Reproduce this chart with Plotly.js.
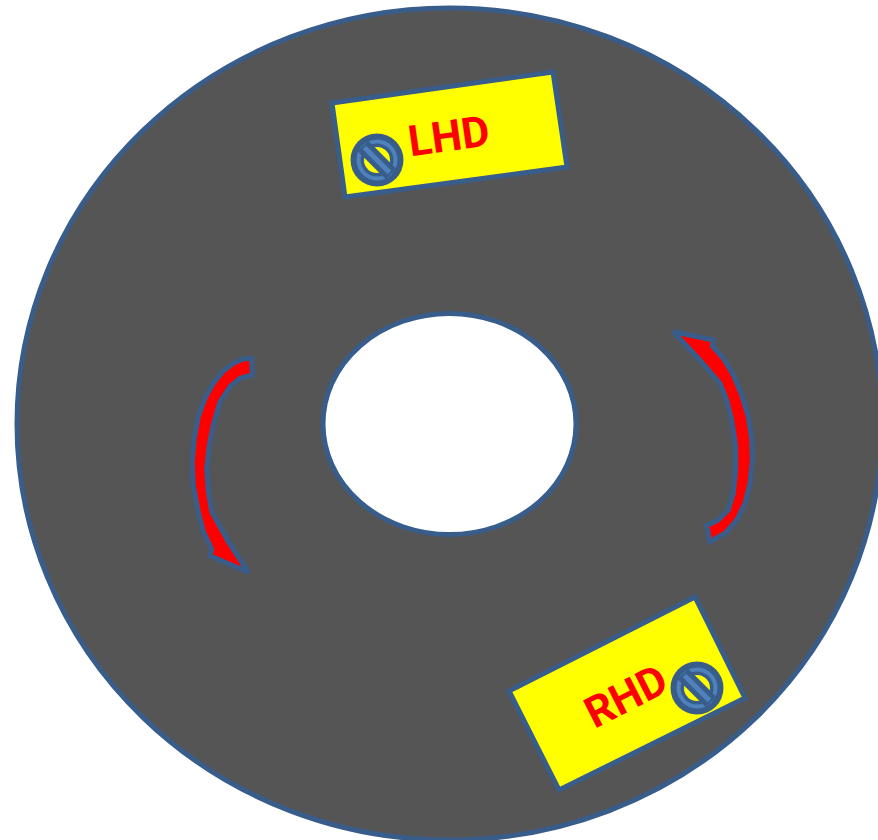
<!DOCTYPE html>
<html>
<head>
<meta charset="utf-8">
<script src="https://cdn.plot.ly/plotly-3.0.1.min.js"></script>
<style>html,body{margin:0;padding:0;background:#fff;overflow:hidden}#c{width:878px;height:840px}</style>
</head>
<body>
<div id="c"></div>
<script>
var diskCenter = [449.5, 424];
var outerRadii = [432.5, 416];
var innerRadii = [126.5, 110.5];

var lhdX = [332, 553, 567, 345];
var lhdY = [103, 72, 167, 197];
var rhdX = [695, 745, 559, 509];
var rhdY = [597, 698, 790, 691];

var leftArrowX = [251.7,243.3,233.3,223.3,213.3,205,198.3,194.3,192.3,193.3,198.3,203.3,211.7,210,248.3,228.3,211.7,208.3,206.7,209.3,213.3,220,230,240,252.3];
var leftArrowY = [358.3,359,363.3,371,383.3,398.3,416.7,438.3,461.7,485,511.7,531.7,549,555.7,572.3,541.7,511.7,491.7,468.3,445,425,401.7,386.7,378.3,375];
var rightArrowX = [673.3,713.3,712.3,723.3,733.3,741.7,748.3,751.7,752.3,750,745,736.7,725,710,706.7,718.3,728.3,733.3,735.7,735.7,731.7,726.7,720,698.3];
var rightArrowY = [331.7,340,346,358.3,375,395,416.7,440,460,483.3,503.3,520,533.3,541.7,525.7,520,510,493.3,470,446.7,420,400,383.3,358.3];

var iconX = [377, 697];
var iconY = [160, 688];
var labels = ["LHD", "RHD"];
var labelX = [449, 626];
var labelY = [136, 696];
var labelAngle = [-8, -27];

var edge = "#385d8a", iconLight = "#4f81bd", gray = "#555555", yellow = "#ffff00", red = "#ff0000";

function poly(x, y, fill) {
  return {x: x.concat(x[0], x[1]), y: y.concat(y[0], y[1]), mode: "lines", fill: "toself", fillcolor: fill,
          line: {color: edge, width: 5, shape: "linear"}, hoverinfo: "skip", showlegend: false};
}
function circle(cx, cy, rx, ry, fill, lineColor, lw, layer) {
  return {type: "circle", xref: "x", yref: "y", x0: cx - rx, x1: cx + rx, y0: cy - ry, y1: cy + ry,
          fillcolor: fill, line: {color: lineColor, width: lw}, layer: layer};
}

var traces = [poly(lhdX, lhdY, yellow), poly(rhdX, rhdY, yellow),
              poly(leftArrowX, leftArrowY, red), poly(rightArrowX, rightArrowY, red)];

var shapes = [
  circle(diskCenter[0], diskCenter[1], outerRadii[0], outerRadii[1], gray, edge, 5, "below"),
  circle(diskCenter[0], diskCenter[1], innerRadii[0], innerRadii[1], "#ffffff", edge, 5, "below")
];
iconX.forEach(function (cx, i) {
  var cy = iconY[i];
  shapes.push(circle(cx, cy, 26.5, 26.5, edge, edge, 0, "above"));
  shapes.push(circle(cx, cy, 20.5, 20.5, iconLight, iconLight, 0, "above"));
  shapes.push(circle(cx, cy, 16.5, 16.5, edge, edge, 0, "above"));
  shapes.push(circle(cx, cy, 13, 13, yellow, yellow, 0, "above"));
  shapes.push({type: "line", xref: "x", yref: "y", x0: cx - 14, y0: cy - 14, x1: cx + 14, y1: cy + 14,
               line: {color: edge, width: 15}, layer: "above"});
  shapes.push({type: "line", xref: "x", yref: "y", x0: cx - 12.5, y0: cy - 12.5, x1: cx + 12.5, y1: cy + 12.5,
               line: {color: iconLight, width: 5}, layer: "above"});
});

var annotations = labels.map(function (t, i) {
  return {text: t, x: labelX[i], y: labelY[i], xref: "x", yref: "y", showarrow: false, textangle: labelAngle[i],
          font: {family: "Roboto, Open Sans, sans-serif", size: 43, color: red, weight: 700}};
});

var layout = {
  width: 878, height: 840, margin: {l: 0, r: 0, t: 0, b: 0},
  paper_bgcolor: "#ffffff", plot_bgcolor: "#ffffff", showlegend: false,
  xaxis: {range: [0, 878], visible: false, fixedrange: true},
  yaxis: {range: [840, 0], visible: false, fixedrange: true},
  shapes: shapes, annotations: annotations
};
Plotly.newPlot("c", traces, layout, {staticPlot: true, displayModeBar: false});
</script>
</body>
</html>
